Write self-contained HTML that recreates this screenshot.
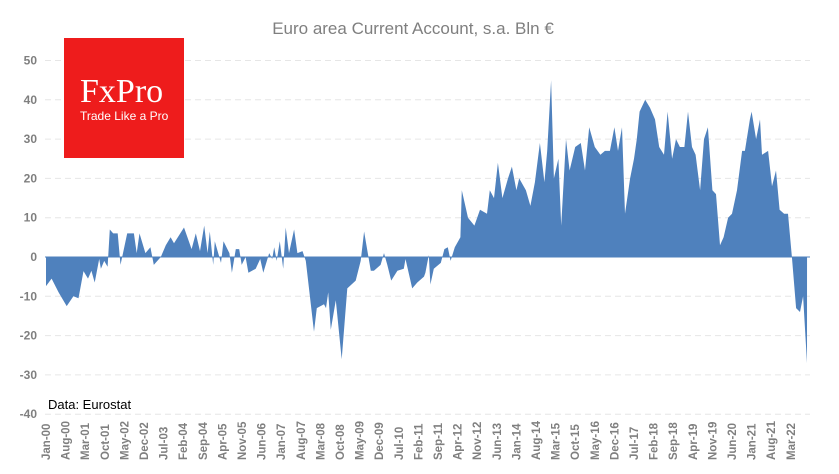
<!DOCTYPE html>
<html><head><meta charset="utf-8"><style>
body{margin:0;background:#fff;}
svg{display:block;font-family:"Liberation Sans",sans-serif;}
</style></head><body>
<svg width="839" height="474" viewBox="0 0 839 474">
<text x="413" y="34" text-anchor="middle" font-size="17" fill="#7f7f7f">Euro area Current Account, s.a. Bln €</text>
<g id="grid" stroke="#e6e6e6" stroke-dasharray="6,4" stroke-width="1"></g>
<g id="yl" font-size="12" font-weight="bold" fill="#7f7f7f" text-anchor="end"></g>
<path id="area" fill="#4f81bd"/>
<line x1="45" x2="810" y1="257" y2="257" stroke="#4f81bd" stroke-width="1"/>
<g id="xl" font-size="11.5" font-weight="bold" fill="#7f7f7f"></g>
<rect x="64" y="38" width="120" height="120" fill="#ee1c1c"/>
<text x="80" y="102" font-family="Liberation Serif,serif" font-size="34" fill="#fff">FxPro</text>
<text x="80" y="120" font-size="12" fill="#fff">Trade Like a Pro</text>
<text x="48" y="409" font-size="13" fill="#000">Data: Eurostat</text>
</svg>
<script>
var ns="http://www.w3.org/2000/svg";
function Y(v){return 257-3.93*v;}function X(m){return 46+2.8*m;}
var g=document.getElementById('grid'),yl=document.getElementById('yl');
for(var v=-40;v<=50;v+=10){
 if(v!=0){var l=document.createElementNS(ns,'line');l.setAttribute('x1',45);l.setAttribute('x2',810);l.setAttribute('y1',Y(v));l.setAttribute('y2',Y(v));g.appendChild(l);}
 var t=document.createElementNS(ns,'text');t.setAttribute('x',37);t.setAttribute('y',Y(v)+4);t.textContent=v;yl.appendChild(t);}
var p=[[0,-7.4],[2,-5.5],[4.5,-9],[7.4,-12.5],[9.8,-10],[11.6,-10.5],[13.4,-3.6],[15,-5.5],[16.2,-3.5],[17.4,-6.5],[19,-0.5],[19.6,-3],[20.8,-1],[22,-2.5],[22.8,7],[24,6],[25.6,6],[26.6,-2],[29,6],[31.4,6],[32.4,1],[33.4,6],[35.5,1],[37.3,2.5],[38.5,-2],[41,0],[42.8,3],[44.5,5],[45.7,3.5],[49.3,7.5],[52,2],[53.5,6],[55,1.5],[56.5,8],[57.7,1],[58.5,6.5],[59.7,-2],[60.3,4],[62.5,-1.5],[63.4,4],[65.5,1],[66.4,-4],[67.8,2],[69,2],[69.9,-2],[71.3,0],[72.3,-4],[74.9,-3],[76.5,-0.5],[77.6,-4],[79.7,1],[80.8,-0.5],[81.5,2.5],[82.4,-1],[83.5,4],[84.7,-3],[85.6,7.5],[86.8,1],[88.6,7],[89.8,1],[91.6,1.5],[92.8,-1],[95.7,-19],[96.7,-13],[99.3,-12],[100,-13],[100.8,-9],[101.7,-18.5],[103.5,-11],[105.6,-26],[107.6,-8],[110.6,-6],[112.4,-1],[113.6,6.5],[116,-3.5],[117.1,-3.5],[119.5,-2],[120.7,1],[121.9,-2],[123.3,-6],[125.5,-3.5],[127.8,-3],[128.4,-0.5],[130.8,-8],[132.6,-6.5],[135,-5],[135.5,-4],[136.7,0.5],[137.3,-7],[138.5,-3],[141,-1.5],[142.3,2],[143.5,2.5],[144.5,-1],[146,2.5],[148,5],[148.5,17],[150.7,10],[153,8],[155,12],[157.5,11],[158.5,17],[160,15],[161.4,24],[163,15],[165,20],[166.4,23],[168,17],[169,20],[171.4,17],[173,13],[174.6,19],[176.4,29],[178,19],[179,27],[180.4,45],[181.4,20],[183,25],[184,8],[185.7,30],[187,22],[189,28],[191,29],[192.5,22],[194,33],[196,28],[198,26],[199.6,27],[201.4,27],[203,33],[204.3,27],[205.7,33],[206.8,11],[208.6,20],[210,25],[211,30],[212,37],[214,40],[215.7,38],[217.5,35],[219,28],[220.7,26],[222,37],[223.6,25],[225,30],[226.4,28],[228,28],[229.3,37],[230.7,28],[232,26],[233.6,17],[235,30],[236.4,33],[238,17],[239.3,16],[240.7,3],[242,5],[243.6,10],[245,11],[246.8,17],[248.6,27],[249.6,27],[251.4,35],[252,37],[253.6,30],[255,35],[255.7,26],[257.9,27],[259.3,18],[260.7,22],[262,12],[263.6,11],[265,11],[266.4,0],[267.9,-13],[269.3,-14],[270.4,-10],[271.8,-27]];
var d='M'+X(0)+','+Y(0);p.forEach(function(q){d+='L'+X(q[0]).toFixed(1)+','+Y(q[1]).toFixed(1);});
d+='L'+X(271.8)+','+Y(0)+'Z';document.getElementById('area').setAttribute('d',d);
var mn=['Jan','Feb','Mar','Apr','May','Jun','Jul','Aug','Sep','Oct','Nov','Dec'],xl=document.getElementById('xl');
for(var m=0;m<=266;m+=7){var yr=Math.floor(m/12),mo=m%12;var s=mn[mo]+'-'+(yr<10?'0':'')+yr;
 var x=X(m)+4;var t=document.createElementNS(ns,'text');t.setAttribute('transform','translate('+x+',460) rotate(-90)');t.textContent=s;xl.appendChild(t);}
</script>
</body></html>
